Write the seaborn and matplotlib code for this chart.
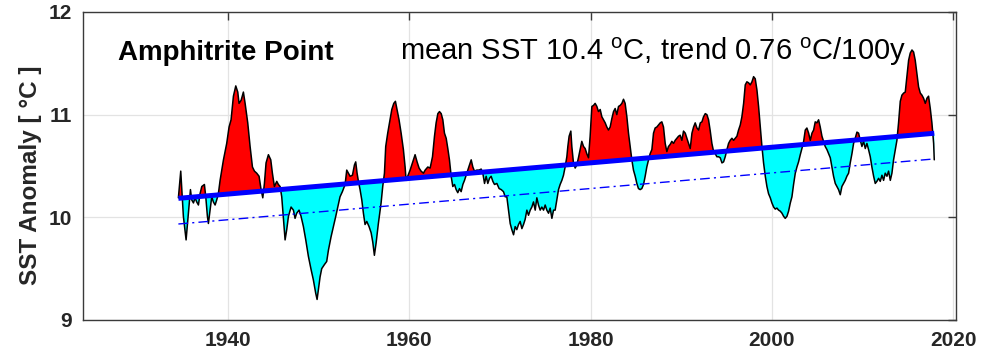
import numpy as np
import pandas as pd
import matplotlib
matplotlib.use("Agg")
import matplotlib.pyplot as plt
import seaborn as sns

# Amphitrite Point smoothed SST record (°C)
years = [
    1934.52, 1934.78, 1935.07, 1935.37, 1935.62, 1935.85, 1935.99, 1936.18, 1936.36, 1936.54,
    1936.73, 1936.91, 1937.10, 1937.39, 1937.54, 1937.72, 1937.83, 1938.01, 1938.20, 1938.38,
    1938.57, 1938.75, 1938.93, 1939.12, 1939.49, 1939.85, 1940.11, 1940.33, 1940.59, 1940.85,
    1941.07, 1941.21, 1941.44, 1941.69, 1941.88, 1942.17, 1942.43, 1942.69, 1942.91, 1943.16,
    1943.42, 1943.64, 1943.83, 1944.01, 1944.19, 1944.45, 1944.71, 1944.89, 1945.11, 1945.37,
    1945.55, 1945.74, 1945.92, 1946.11, 1946.29, 1946.47, 1946.66, 1946.95, 1947.21,
    1947.39, 1947.57, 1947.83, 1948.05, 1948.31, 1948.57, 1948.86, 1949.16, 1949.41, 1949.67,
    1949.82, 1949.96, 1950.15, 1950.33, 1950.63, 1950.88, 1951.07, 1951.36, 1951.62, 1951.88,
    1952.10, 1952.35, 1952.61, 1952.91, 1953.09, 1953.27, 1953.46, 1953.72, 1953.94, 1954.08,
    1954.23, 1954.38, 1954.56, 1954.75, 1954.93, 1955.11, 1955.30, 1955.55, 1955.78, 1955.96,
    1956.14, 1956.33, 1956.58, 1956.88, 1957.06, 1957.25, 1957.39, 1957.61, 1957.87, 1958.06,
    1958.28, 1958.46, 1958.64, 1958.86, 1959.09, 1959.34, 1959.53, 1959.64, 1959.82, 1960.08,
    1960.34, 1960.63, 1960.85, 1961.07, 1961.29, 1961.55,
    1961.74, 1962.03, 1962.29, 1962.55, 1962.77, 1962.95, 1963.14, 1963.32, 1963.51, 1963.69,
    1963.87, 1964.06, 1964.24, 1964.42, 1964.61, 1964.79, 1964.98, 1965.16, 1965.34, 1965.53,
    1965.71, 1965.90, 1966.08, 1966.26, 1966.45, 1966.63, 1966.82, 1967.00, 1967.18, 1967.44,
    1967.70, 1967.92, 1968.10, 1968.29, 1968.47, 1968.65, 1968.84, 1969.02, 1969.21, 1969.39,
    1969.65, 1969.90, 1970.13, 1970.38, 1970.57, 1970.75, 1970.93, 1971.12, 1971.30, 1971.49,
    1971.67, 1971.85, 1972.04, 1972.22, 1972.41, 1972.59, 1972.77, 1972.96, 1973.14, 1973.33,
    1973.51, 1973.69, 1973.88, 1974.06, 1974.24, 1974.43, 1974.61, 1974.80, 1974.98, 1975.16,
    1975.35, 1975.53, 1975.72, 1975.90,
    1976.08, 1976.26, 1976.45, 1976.63, 1976.82, 1977.00, 1977.18, 1977.37, 1977.48, 1977.62,
    1977.81, 1977.92, 1978.10, 1978.29, 1978.47, 1978.65, 1978.84, 1979.02, 1979.21, 1979.39,
    1979.57, 1979.76, 1979.94, 1980.13, 1980.31, 1980.49, 1980.68, 1980.86, 1981.05, 1981.23,
    1981.41, 1981.60, 1981.78, 1981.96, 1982.15, 1982.33, 1982.52, 1982.70, 1982.88, 1983.07,
    1983.25, 1983.44, 1983.62, 1983.80, 1983.99, 1984.17, 1984.36, 1984.54, 1984.72, 1984.91,
    1985.09, 1985.27, 1985.46, 1985.64, 1985.83, 1986.01, 1986.19, 1986.38, 1986.56, 1986.75,
    1986.93, 1987.11, 1987.30, 1987.48, 1987.67, 1987.85, 1988.03, 1988.22, 1988.40, 1988.58,
    1988.77, 1988.95, 1989.14, 1989.32, 1989.50, 1989.69, 1989.87, 1990.06, 1990.24,
    1990.43, 1990.61, 1990.80, 1990.98, 1991.17, 1991.35, 1991.53, 1991.72, 1991.90, 1992.09,
    1992.27, 1992.45, 1992.64, 1992.82, 1993.00, 1993.19, 1993.37, 1993.56, 1993.74, 1993.92,
    1994.11, 1994.29, 1994.48, 1994.66, 1994.84, 1995.03, 1995.21, 1995.39, 1995.58, 1995.76,
    1995.95, 1996.13, 1996.31, 1996.50, 1996.68, 1996.87, 1997.05, 1997.23, 1997.42, 1997.60,
    1997.79, 1997.97, 1998.15, 1998.34, 1998.52, 1998.71, 1998.89, 1999.07, 1999.26, 1999.44,
    1999.62, 1999.81, 1999.99, 2000.18, 2000.36, 2000.54, 2000.73, 2000.91, 2001.10, 2001.28,
    2001.46, 2001.65, 2001.83, 2002.02, 2002.20, 2002.38, 2002.57, 2002.75, 2002.93, 2003.12,
    2003.30, 2003.49, 2003.67, 2003.85, 2004.04, 2004.22, 2004.41, 2004.59,
    2004.77, 2004.95, 2005.14, 2005.32, 2005.51, 2005.69, 2005.87, 2006.06, 2006.24, 2006.43,
    2006.61, 2006.79, 2006.98, 2007.16, 2007.34, 2007.53, 2007.71, 2007.90, 2008.08, 2008.26,
    2008.45, 2008.63, 2008.82, 2009.00, 2009.18, 2009.37, 2009.55, 2009.74, 2009.92, 2010.10,
    2010.29, 2010.47, 2010.65, 2010.84, 2011.02, 2011.21, 2011.39, 2011.57, 2011.76, 2011.94,
    2012.13, 2012.31, 2012.49, 2012.68, 2012.86, 2013.05, 2013.23, 2013.41, 2013.60, 2013.78,
    2013.96, 2014.15, 2014.33, 2014.52, 2014.70, 2014.88, 2015.07, 2015.25, 2015.44, 2015.62,
    2015.80, 2015.99, 2016.17, 2016.36, 2016.54, 2016.72, 2016.91, 2017.09, 2017.27, 2017.46,
    2017.64, 2017.83, 2017.90,
]

sst = [
    10.19, 10.45, 10.01, 9.78, 10.04, 10.27, 10.17, 10.14, 10.19, 10.15,
    10.12, 10.23, 10.30, 10.32, 10.20, 10.01, 9.94, 10.07, 10.20, 10.15,
    10.12, 10.17, 10.23, 10.36, 10.56, 10.72, 10.88, 10.95, 11.18, 11.28,
    11.22, 11.11, 11.14, 11.22, 11.11, 10.92, 10.69, 10.49, 10.45, 10.43,
    10.40, 10.27, 10.19, 10.33, 10.53, 10.61, 10.56, 10.43, 10.30, 10.35,
    10.32, 10.30, 10.20, 9.98, 9.78, 9.88, 10.01, 10.10, 10.07,
    9.99, 10.04, 10.07, 10.01, 9.91, 9.78, 9.62, 9.49, 9.39, 9.26,
    9.20, 9.29, 9.42, 9.50, 9.54, 9.57, 9.68, 9.81, 9.91, 10.01,
    10.10, 10.20, 10.25, 10.32, 10.46, 10.43, 10.40, 10.41, 10.51, 10.54,
    10.43, 10.35, 10.27, 10.17, 10.04, 9.93, 9.96, 9.91, 9.85, 9.76,
    9.63, 9.75, 9.94, 10.14, 10.30, 10.43, 10.69, 10.82, 10.95, 11.05,
    11.11, 11.13, 11.05, 10.95, 10.82, 10.66, 10.49, 10.36, 10.40, 10.46,
    10.53, 10.61, 10.54, 10.48, 10.45, 10.43,
    10.46, 10.49, 10.48, 10.59, 10.79, 10.92, 11.01, 11.03, 11.01, 10.95,
    10.82, 10.77, 10.67, 10.56, 10.40, 10.30, 10.32, 10.27, 10.24, 10.28,
    10.25, 10.32, 10.36, 10.41, 10.46, 10.51, 10.56, 10.49, 10.45, 10.46,
    10.46, 10.47, 10.43, 10.33, 10.40, 10.33, 10.38, 10.40, 10.35, 10.32,
    10.33, 10.28, 10.27, 10.25, 10.20, 10.20, 10.07, 9.94, 9.88, 9.83,
    9.91, 9.88, 9.93, 9.96, 9.89, 9.93, 9.98, 10.07, 10.02, 10.07,
    10.10, 10.15, 10.07, 10.19, 10.12, 10.07, 10.10, 10.07, 10.12, 10.07,
    10.04, 10.09, 9.99, 10.07,
    10.07, 10.17, 10.27, 10.32, 10.36, 10.41, 10.49, 10.59, 10.69, 10.79,
    10.84, 10.69, 10.53, 10.48, 10.51, 10.58, 10.66, 10.74, 10.69, 10.67,
    10.62, 10.58, 10.79, 11.08, 11.09, 11.11, 11.08, 11.03, 11.05, 10.98,
    10.95, 10.92, 10.88, 10.85, 10.88, 10.96, 11.03, 11.06, 11.00, 11.08,
    11.09, 11.11, 11.15, 11.11, 10.98, 10.82, 10.69, 10.56, 10.46, 10.40,
    10.33, 10.28, 10.27, 10.28, 10.32, 10.40, 10.49, 10.56, 10.62, 10.66,
    10.82, 10.87, 10.88, 10.90, 10.92, 10.93, 10.88, 10.72, 10.64, 10.69,
    10.71, 10.74, 10.72, 10.75, 10.77, 10.79, 10.80, 10.75, 10.84,
    10.82, 10.77, 10.72, 10.67, 10.82, 10.88, 10.92, 10.87, 10.85, 10.92,
    10.93, 10.98, 11.01, 11.00, 10.95, 10.84, 10.72, 10.64, 10.62, 10.59,
    10.59, 10.58, 10.53, 10.54, 10.59, 10.66, 10.72, 10.75, 10.77, 10.75,
    10.77, 10.79, 10.85, 10.90, 10.98, 11.11, 11.29, 11.32, 11.31, 11.29,
    11.32, 11.37, 11.35, 11.24, 11.08, 10.88, 10.69, 10.53, 10.40, 10.30,
    10.23, 10.19, 10.14, 10.10, 10.08, 10.09, 10.07, 10.06, 10.04, 10.01,
    9.99, 10.01, 10.06, 10.14, 10.20, 10.32, 10.43, 10.49, 10.54, 10.61,
    10.67, 10.74, 10.85, 10.87, 10.82, 10.75, 10.82, 10.85,
    10.93, 10.92, 10.95, 10.88, 10.79, 10.74, 10.69, 10.66, 10.62, 10.58,
    10.49, 10.40, 10.33, 10.30, 10.27, 10.22, 10.30, 10.33, 10.36, 10.40,
    10.43, 10.53, 10.62, 10.72, 10.77, 10.83, 10.82, 10.75, 10.69, 10.74,
    10.67, 10.72, 10.66, 10.59, 10.49, 10.40, 10.33, 10.35, 10.38, 10.35,
    10.41, 10.36, 10.43, 10.40, 10.45, 10.36, 10.43, 10.56, 10.66, 10.75,
    10.92, 11.13, 11.19, 11.21, 11.22, 11.37, 11.53, 11.60, 11.63, 11.61,
    11.53, 11.40, 11.27, 11.21, 11.19, 11.16, 11.11, 11.16, 11.18, 11.06,
    10.92, 10.72, 10.56,
]

# Linear trend: value at the start of the record and rate in °C per 100 years
trend_start = 10.185
trend_rate = 0.76
# Offset of the dash-dot reference line below the trend
lower_offset = 0.25

mean_sst = 10.4
station = "Amphitrite Point"

x_ticks = [1940, 1960, 1980, 2000, 2020]
y_ticks = [9, 10, 11, 12]

df = pd.DataFrame({"year": years, "sst": sst})
df["trend"] = trend_start + trend_rate / 100.0 * (df["year"] - df["year"].iloc[0])
df["lower"] = df["trend"] - lower_offset

sns.set_theme(style="whitegrid")
plt.rcParams["font.family"] = ["Liberation Sans", "DejaVu Sans"]
plt.rcParams["mathtext.fontset"] = "custom"
plt.rcParams["mathtext.rm"] = "Liberation Sans"

fig = plt.figure(figsize=(9.86, 3.61), dpi=100)
ax = fig.add_axes([0.0842, 0.1136, 0.8854, 0.8532])

x = df["year"].to_numpy()
y = df["sst"].to_numpy()
t = df["trend"].to_numpy()
ax.fill_between(x, y, t, where=y >= t, interpolate=True, color="#ff0000", linewidth=0, zorder=2)
ax.fill_between(x, y, t, where=y < t, interpolate=True, color="#00ffff", linewidth=0, zorder=2)

sns.lineplot(data=df, x="year", y="sst", ax=ax, color="black", linewidth=1.1,
             estimator=None, sort=False, zorder=3)
sns.lineplot(data=df, x="year", y="lower", ax=ax, color="#0000ff", linewidth=1.0,
             estimator=None, zorder=4, linestyle=(0, (7, 3, 1.5, 3)))
sns.lineplot(data=df, x="year", y="trend", ax=ax, color="#0000ff", linewidth=3.6,
             estimator=None, zorder=5, solid_capstyle="butt")

ax.set_xlim(1924, 2020.3)
ax.set_ylim(9, 12)
ax.set_xticks(x_ticks)
ax.set_yticks(y_ticks)
ax.set_xlabel("")
ax.set_ylabel("SST Anomaly [ °C ]", fontsize=17.5, fontweight="bold", color="#262626")
ax.yaxis.set_label_coords(-0.047, 0.47)

ax.grid(True, color="#e3e3e3", linewidth=0.9)
ax.set_axisbelow(True)
for s in ax.spines.values():
    s.set_visible(True)
    s.set_color("#3a3a3a")
    s.set_linewidth(1.0)
ax.tick_params(axis="both", which="major", direction="in", length=6, width=1.0,
               color="#3a3a3a", top=True, right=True, labelsize=15, labelcolor="#262626", pad=8)
for lbl in ax.get_xticklabels() + ax.get_yticklabels():
    lbl.set_fontweight("bold")

ax.text(1927.9, 11.53, station, fontsize=20, fontweight="bold", color="black", va="baseline", ha="left")
ax.text(1959.0, 11.53,
        f"mean SST {mean_sst} $^\\mathrm{{o}}$C, trend {trend_rate:.2f} $^\\mathrm{{o}}$C/100y",
        fontsize=21, color="black", va="baseline", ha="left")

fig.savefig("out.png", dpi=100)
